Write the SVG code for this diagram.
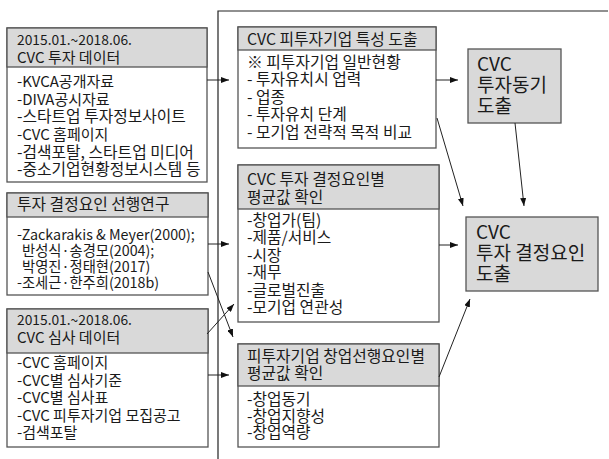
<svg xmlns="http://www.w3.org/2000/svg" width="609" height="459" viewBox="0 0 609 459">
<defs>
<marker id="ah" markerUnits="userSpaceOnUse" markerWidth="8" markerHeight="6" refX="8" refY="3" orient="auto">
<path d="M0,0 L8,3 L0,6 z" fill="#111"/>
</marker>
<style>
.box{fill:#fff;stroke:#555;stroke-width:1.3}
.hd{fill:#d9d9d9;stroke:#555;stroke-width:1.3}
.t{font-family:"Noto Sans CJK KR","Liberation Sans",sans-serif;font-size:15.8px;fill:#1a1a1a}
.m{font-size:15px}
.l{font-size:14.3px}
.d{font-size:13.8px}
.big{font-size:19px}
.c{fill:none;stroke:#222;stroke-width:1;marker-end:url(#ah)}
.frame{fill:none;stroke:#222;stroke-width:1.2}
</style>
</defs>
<rect width="609" height="459" fill="#fff"/>
<path class="frame" d="M218,459 V11 H608"/>

<g id="n1">
<rect class="box" x="7" y="28" width="200" height="154"/>
<rect class="hd" x="7" y="28" width="200" height="39"/>
<text class="t"><tspan class="d" x="17" y="45">2015.01.~2018.06.</tspan><tspan class="m" x="17" y="63">CVC 투자 데이터</tspan></text>
<text class="t"><tspan class="m" x="17" y="87">-KVCA공개자료</tspan><tspan class="m" x="17" y="105">-DIVA공시자료</tspan><tspan x="17" y="122">-스타트업 투자정보사이트</tspan><tspan class="m" x="17" y="140">-CVC 홈페이지</tspan><tspan x="17" y="158">-검색포탈, 스타트업 미디어</tspan><tspan x="17" y="175">-중소기업현황정보시스템 등</tspan></text>
</g>

<g id="n2">
<rect class="box" x="7" y="193" width="201" height="102"/>
<rect class="hd" x="7" y="193" width="201" height="24"/>
<text class="t" x="17" y="210">투자 결정요인 선행연구</text>
<text class="t l"><tspan x="17" y="240">-Zackarakis &amp; Meyer(2000);</tspan><tspan x="22" y="256">반성식·송경모(2004);</tspan><tspan x="22" y="272">박영진·정태현(2017)</tspan><tspan x="17" y="288">-조세근·한주희(2018b)</tspan></text>
</g>

<g id="n3">
<rect class="box" x="7" y="309" width="201" height="138"/>
<rect class="hd" x="7" y="309" width="201" height="44"/>
<text class="t"><tspan class="d" x="17" y="325">2015.01.~2018.06.</tspan><tspan class="m" x="17" y="343">CVC 심사 데이터</tspan></text>
<text class="t m"><tspan x="17" y="368">-CVC 홈페이지</tspan><tspan x="17" y="386">-CVC별 심사기준</tspan><tspan x="17" y="403">-CVC별 심사표</tspan><tspan x="17" y="421">-CVC 피투자기업 모집공고</tspan><tspan x="17" y="438">-검색포탈</tspan></text>
</g>

<g id="n4">
<rect class="box" x="238" y="27" width="198" height="121"/>
<rect class="hd" x="238" y="27" width="198" height="23"/>
<text class="t" x="247" y="45">CVC 피투자기업 특성 도출</text>
<text class="t"><tspan x="247" y="68">※ 피투자기업 일반현황</tspan><tspan x="247" y="85">- 투자유치시 업력</tspan><tspan x="247" y="103">- 업종</tspan><tspan x="247" y="120">- 투자유치 단계</tspan><tspan x="247" y="138">- 모기업 전략적 목적 비교</tspan></text>
</g>

<g id="n5">
<rect class="box" x="238" y="165" width="201" height="157"/>
<rect class="hd" x="238" y="165" width="201" height="44"/>
<text class="t"><tspan x="247" y="185">CVC 투자 결정요인별</tspan><tspan x="247" y="203">평균값 확인</tspan></text>
<text class="t"><tspan x="247" y="226">-창업가(팀)</tspan><tspan x="247" y="243">-제품/서비스</tspan><tspan x="247" y="261">-시장</tspan><tspan x="247" y="278">-재무</tspan><tspan x="247" y="296">-글로벌진출</tspan><tspan x="247" y="313">-모기업 연관성</tspan></text>
</g>

<g id="n6">
<rect class="box" x="238" y="344" width="201" height="103"/>
<rect class="hd" x="238" y="344" width="201" height="42"/>
<text class="t"><tspan x="247" y="362">피투자기업 창업선행요인별</tspan><tspan x="247" y="379">평균값 확인</tspan></text>
<text class="t"><tspan x="247" y="405">-창업동기</tspan><tspan x="247" y="422">-창업지향성</tspan><tspan x="247" y="438">-창업역량</tspan></text>
</g>

<g id="n7">
<rect class="hd" x="468" y="49" width="93" height="74"/>
<text class="t big"><tspan x="477" y="71">CVC</tspan><tspan x="477" y="92">투자동기</tspan><tspan x="477" y="113">도출</tspan></text>
</g>

<g id="n8">
<rect class="hd" x="466" y="217" width="132" height="74"/>
<text class="t big"><tspan x="476" y="239">CVC</tspan><tspan x="476" y="260">투자 결정요인</tspan><tspan x="476" y="281">도출</tspan></text>
</g>

<g id="connectors">
<path class="c" d="M207,80 H229"/>
<path class="c" d="M208,244 H229"/>
<path class="c" d="M208,375 H229"/>
<path class="c" d="M208,272 L233,337"/>
<path class="c" d="M207,334 L234,304"/>
<path class="c" d="M436,80 H458"/>
<path class="c" d="M439,245 H458"/>
<path class="c" d="M437,118 L463,206"/>
<path class="c" d="M515,123 L524,206"/>
<path class="c" d="M439,377 L470,299"/>
</g>
</svg>
